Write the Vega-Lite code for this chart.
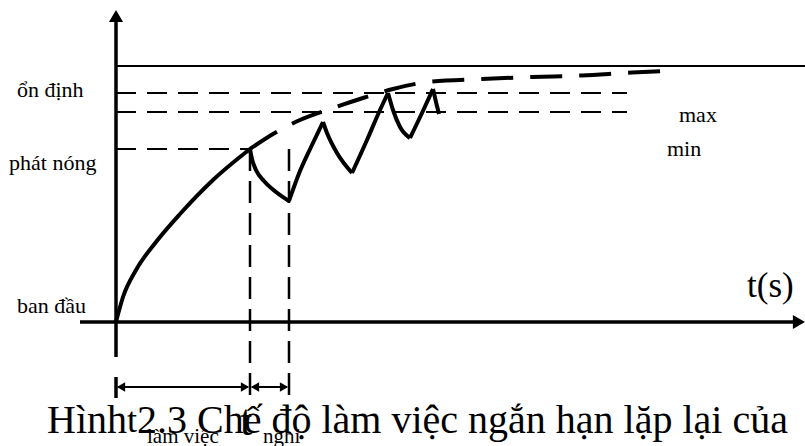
{
 "$schema": "https://vega.github.io/schema/vega-lite/v6.json",
 "width": 805, "height": 446, "padding": 0, "autosize": "none",
 "background": "white",
 "config": {"view": {"stroke": null}, "font": "Liberation Serif"},
 "title": {"text": "Hình 2.3 Chế độ làm việc ngắn hạn lặp lại của", "orient": "bottom", "anchor": "start", "frame": "group", "dx": 47, "offset": -14, "baseline": "alphabetic", "font": "Liberation Serif", "fontSize": 40, "fontWeight": "normal", "color": "black"},
 "datasets": {
  "axes": [{"x": 0, "y": -35, "x2": 0, "y2": 300}, {"x": -36, "y": 0, "x2": 680, "y2": 0}, {"x": 0, "y": -55, "x2": 0, "y2": -76}],
  "steady": [{"x": 0, "y": 256, "x2": 689, "y2": 256}],
  "levels": [{"x": 0, "y": 229, "x2": 511, "y2": 229}, {"x": 0, "y": 210, "x2": 511, "y2": 210}, {"x": 0, "y": 173, "x2": 134, "y2": 173}],
  "drops": [{"x": 134, "y": 173, "x2": 134, "y2": -76}, {"x": 173, "y": 173, "x2": 173, "y2": -76}],
  "dims": [{"x": 2, "y": -65, "x2": 132, "y2": -65}, {"x": 136, "y": -65, "x2": 171, "y2": -65}],
  "arrows": [
   {"dir": "up", "x": 0, "y": 306},
   {"dir": "right", "x": 683, "y": 0},
   {"dir": "sleft", "x": 5, "y": -65},
   {"dir": "sright", "x": 129, "y": -65},
   {"dir": "sleft", "x": 139, "y": -65},
   {"dir": "sright", "x": 168, "y": -65}
  ],
  "curve": [
   {"seg": 1, "x": 0, "y": 0}, {"seg": 1, "x": 7, "y": 25}, {"seg": 1, "x": 20, "y": 52}, {"seg": 1, "x": 40, "y": 80}, {"seg": 1, "x": 64, "y": 108}, {"seg": 1, "x": 97, "y": 142}, {"seg": 1, "x": 134, "y": 173},
   {"seg": 2, "x": 134, "y": 173}, {"seg": 2, "x": 136, "y": 163}, {"seg": 2, "x": 140, "y": 152}, {"seg": 2, "x": 148, "y": 141}, {"seg": 2, "x": 160, "y": 130}, {"seg": 2, "x": 173, "y": 121},
   {"seg": 3, "x": 173, "y": 121}, {"seg": 3, "x": 184, "y": 151}, {"seg": 3, "x": 196, "y": 177}, {"seg": 3, "x": 207, "y": 200},
   {"seg": 4, "x": 207, "y": 200}, {"seg": 4, "x": 211, "y": 189}, {"seg": 4, "x": 221, "y": 169}, {"seg": 4, "x": 236, "y": 149},
   {"seg": 5, "x": 236, "y": 149}, {"seg": 5, "x": 251, "y": 182}, {"seg": 5, "x": 264, "y": 212}, {"seg": 5, "x": 272, "y": 229},
   {"seg": 6, "x": 272, "y": 229}, {"seg": 6, "x": 277, "y": 212}, {"seg": 6, "x": 284, "y": 195}, {"seg": 6, "x": 294, "y": 184},
   {"seg": 7, "x": 294, "y": 184}, {"seg": 7, "x": 306, "y": 209}, {"seg": 7, "x": 317, "y": 233},
   {"seg": 8, "x": 317, "y": 233}, {"seg": 8, "x": 320, "y": 220}, {"seg": 8, "x": 323, "y": 208}
  ],
  "envelope": [
   {"x": 134, "y": 173}, {"x": 157, "y": 188}, {"x": 184, "y": 202}, {"x": 217, "y": 214}, {"x": 247, "y": 224}, {"x": 277, "y": 233}, {"x": 312, "y": 240}, {"x": 366, "y": 243}, {"x": 416, "y": 245}, {"x": 466, "y": 246.5}, {"x": 516, "y": 249.5}, {"x": 551, "y": 251}
  ],
  "labels": [
   {"label": "ổn định", "x": -99, "y": 225},
   {"label": "phát nóng", "x": -107, "y": 152},
   {"label": "ban đầu", "x": -99, "y": 9},
   {"label": "max", "x": 563, "y": 200},
   {"label": "min", "x": 551, "y": 166}
  ],
  "axisTitle": [{"label": "t(s)", "x": 631, "y": 25}],
  "tWork": [{"label": "t", "x": 11, "y": -110}],
  "tRest": [{"label": "t", "x": 124, "y": -113}],
  "subs": [{"label": "làm việc", "x": 31, "y": -121}, {"label": "nghỉ", "x": 147, "y": -121}]
 },
 "encoding": {
  "x": {"field": "x", "type": "quantitative", "scale": {"domain": [-116, 689], "nice": false, "zero": false}, "axis": null},
  "y": {"field": "y", "type": "quantitative", "scale": {"domain": [-124, 322], "nice": false, "zero": false}, "axis": null}
 },
 "layer": [
  {"data": {"name": "steady"}, "mark": {"type": "rule", "strokeWidth": 2.2, "color": "black"}, "encoding": {"x2": {"field": "x2"}, "y2": {"field": "y2"}}},
  {"data": {"name": "levels"}, "mark": {"type": "rule", "strokeWidth": 2.2, "color": "black", "strokeDash": [20, 11]}, "encoding": {"x2": {"field": "x2"}, "y2": {"field": "y2"}}},
  {"data": {"name": "drops"}, "mark": {"type": "rule", "strokeWidth": 2.5, "color": "black", "strokeDash": [22, 10]}, "encoding": {"x2": {"field": "x2"}, "y2": {"field": "y2"}}},
  {"data": {"name": "dims"}, "mark": {"type": "rule", "strokeWidth": 2, "color": "black"}, "encoding": {"x2": {"field": "x2"}, "y2": {"field": "y2"}}},
  {"data": {"name": "axes"}, "mark": {"type": "rule", "strokeWidth": 3.5, "color": "black"}, "encoding": {"x2": {"field": "x2"}, "y2": {"field": "y2"}}},
  {"data": {"name": "envelope"}, "mark": {"type": "line", "interpolate": "monotone", "strokeWidth": 4, "color": "black", "strokeDash": [32, 17]}, "encoding": {"order": {"field": "x", "type": "quantitative"}}},
  {"data": {"name": "curve"}, "mark": {"type": "line", "interpolate": "monotone", "strokeWidth": 4, "color": "black", "strokeJoin": "round"}, "encoding": {"detail": {"field": "seg", "type": "nominal"}, "order": {"field": "x", "type": "quantitative"}}},
  {"data": {"name": "arrows"}, "transform": [{"filter": "datum.dir == 'up'"}], "mark": {"type": "point", "shape": "triangle-up", "size": 200, "filled": true, "opacity": 1, "color": "black", "strokeWidth": 0}},
  {"data": {"name": "arrows"}, "transform": [{"filter": "datum.dir == 'right'"}], "mark": {"type": "point", "shape": "triangle-right", "size": 200, "filled": true, "opacity": 1, "color": "black", "strokeWidth": 0}},
  {"data": {"name": "arrows"}, "transform": [{"filter": "datum.dir == 'sleft'"}], "mark": {"type": "point", "shape": "triangle-left", "size": 90, "filled": true, "opacity": 1, "color": "black", "strokeWidth": 0}},
  {"data": {"name": "arrows"}, "transform": [{"filter": "datum.dir == 'sright'"}], "mark": {"type": "point", "shape": "triangle-right", "size": 90, "filled": true, "opacity": 1, "color": "black", "strokeWidth": 0}},
  {"data": {"name": "labels"}, "mark": {"type": "text", "align": "left", "baseline": "alphabetic", "fontSize": 22, "font": "Liberation Serif", "color": "black"}, "encoding": {"text": {"field": "label"}}},
  {"data": {"name": "axisTitle"}, "mark": {"type": "text", "align": "left", "baseline": "alphabetic", "fontSize": 35, "font": "Liberation Serif", "color": "black"}, "encoding": {"text": {"field": "label"}}},
  {"data": {"name": "tWork"}, "mark": {"type": "text", "align": "left", "baseline": "alphabetic", "fontSize": 36, "font": "Liberation Serif", "color": "black"}, "encoding": {"text": {"field": "label"}}},
  {"data": {"name": "tRest"}, "mark": {"type": "text", "align": "left", "baseline": "alphabetic", "fontSize": 44, "font": "Liberation Serif", "color": "black"}, "encoding": {"text": {"field": "label"}}},
  {"data": {"name": "subs"}, "mark": {"type": "text", "align": "left", "baseline": "alphabetic", "fontSize": 21, "font": "Liberation Serif", "color": "black"}, "encoding": {"text": {"field": "label"}}}
 ]
}
